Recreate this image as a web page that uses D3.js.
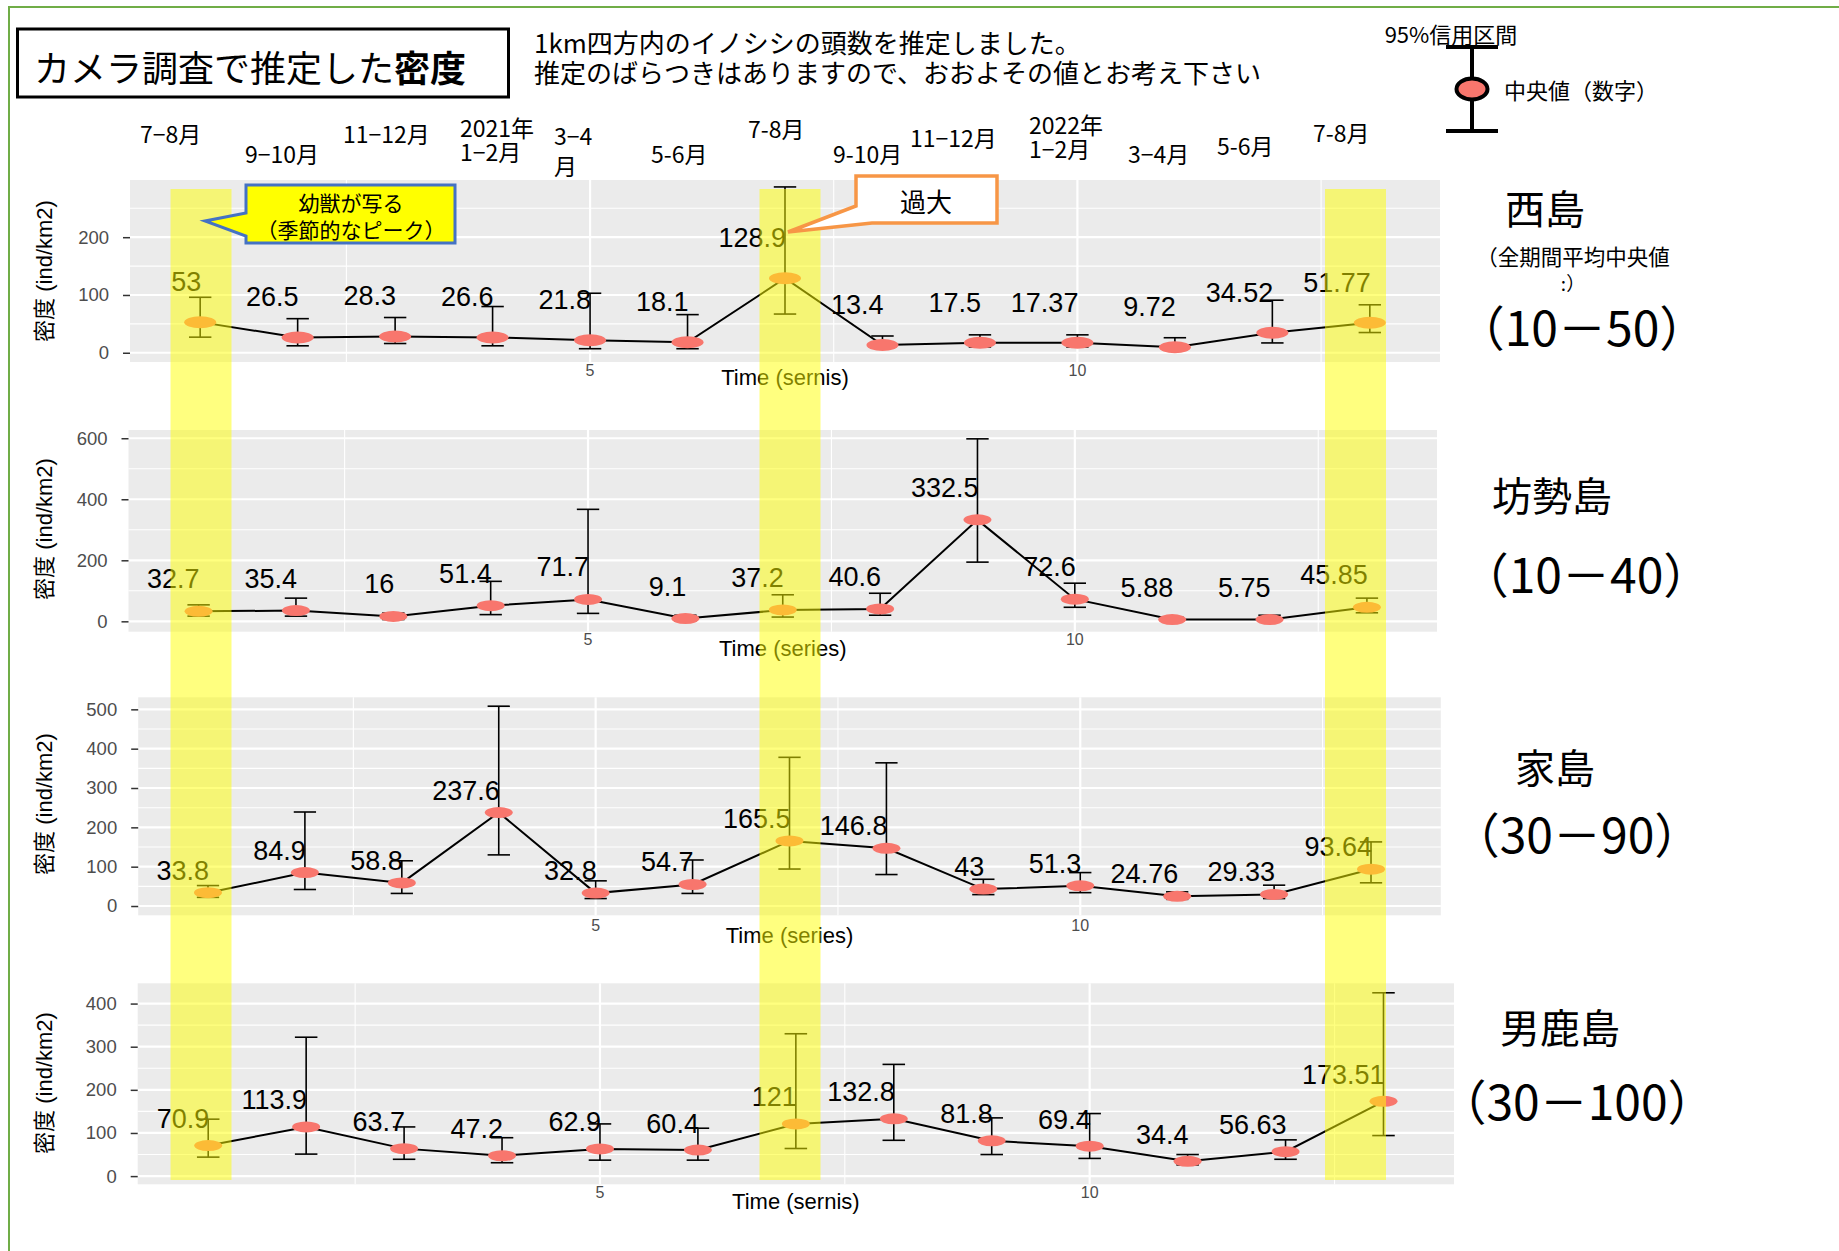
<!DOCTYPE html>
<html><head><meta charset="utf-8">
<script src="https://cdn.jsdelivr.net/npm/d3@7"></script>
<style>
body{margin:0;background:#fff;}
svg{display:block;}
</style></head>
<body>
<script>
// ---- data -------------------------------------------------------------
const periods = d3.range(1, 14);
const periodLabels = ["7−8月","9−10月","11−12月","2021年|1−2月","3−4|月","5-6月","7-8月","9-10月","11−12月","2022年|1−2月","3−4月","5-6月","7-8月"];

const islandNames = ["西島","坊勢島","家島","男鹿島"];
const islandRanges = ["（10－50）","（10－40）","（30－90）","（30－100）"];
const xAxisTitles = ["Time (sernis)","Time (series)","Time (series)","Time (sernis)"];

const nishiMedian = [53,26.5,28.3,26.6,21.8,18.1,128.9,13.4,17.5,17.37,9.72,34.52,51.77];
const nishiLower  = [27,12,16,12,7,7,67,8,10,10,5,17,35];
const nishiUpper  = [96,59,61,80,103,66,287,29,31,31,26,91,83];

const boseMedian = [32.7,35.4,16,51.4,71.7,9.1,37.2,40.6,332.5,72.6,5.88,5.75,45.85];
const boseLower  = [17,17,6,22,26,2,14,20,194,46,1,1,28];
const boseUpper  = [54,76,27,131,367,20,87,92,598,125,14,20,76];

const ieMedian = [33.8,84.9,58.8,237.6,32.8,54.7,165.5,146.8,43,51.3,24.76,29.33,93.64];
const ieLower  = [22,42,32,130,19,32,94,80,29,34,17,19,59];
const ieUpper  = [52,239,115,508,64,117,378,364,68,85,36,53,163];

const tangaMedian = [70.9,113.9,63.7,47.2,62.9,60.4,121,132.8,81.8,69.4,34.4,56.63,173.51];
const tangaLower  = [44,51,39,31,37,37,64,83,50,41,26,39,94];
const tangaUpper  = [132,322,114,89,121,111,330,259,135,145,50,84,425];

const yTicks = [[0,100,200],[0,200,400,600],[0,100,200,300,400,500],[0,100,200,300,400]];
const xMajorTicks = [5,10];
const xMinorTicks = [2.5,7.5,12.5];
const highlightPeriods = [1,7,13];

const series = [
  {median: nishiMedian, lower: nishiLower, upper: nishiUpper},
  {median: boseMedian,  lower: boseLower,  upper: boseUpper},
  {median: ieMedian,    lower: ieLower,    upper: ieUpper},
  {median: tangaMedian, lower: tangaLower, upper: tangaUpper}
];

// ---- layout -----------------------------------------------------------
const W = 1839, H = 1251;
const JP = "'Noto Sans CJK JP', sans-serif";
const LAT = "'Liberation Sans', Arial, 'Noto Sans CJK JP', sans-serif";
const RED = "#F8766D";

const panelLayout = [
  {x0:130,   x1:1440,   y0:180,   y1:362,    yDom:[-16,299],    labelDy:-31, rx:16, ry:6,
   xTitleY:377, yTitleY:271, tickY:370, name:[1545,207], range:[1582,325]},
  {x0:128.5, x1:1437,   y0:430,   y1:631.7,  yDom:[-34,627],    labelDy:-23, rx:14, ry:5.5,
   xTitleY:648, yTitleY:529, tickY:639, name:[1552,494], range:[1586,572]},
  {x0:138.2, x1:1440.8, y0:697.3, y1:915.3,  yDom:[-23.6,530.6],labelDy:-13, rx:14, ry:5.5,
   xTitleY:935, yTitleY:804, tickY:925, name:[1555,766], range:[1577,832]},
  {x0:137.7, x1:1454,   y0:983.3, y1:1184.3, yDom:[-19,447],    labelDy:-17.5, rx:14, ry:5.5,
   xTitleY:1201, yTitleY:1083, tickY:1192, name:[1560,1026], range:[1577,1099]}
];
const xDomain = [0.28, 13.72];

const headerLayout = [
  [140,133],[245,153],[343,133],[460,127],[554,135],[651,153],[748,128],
  [833,153],[910,137],[1029,124],[1128,153],[1217,145],[1313,132]
];

const svg = d3.select("body").append("svg").attr("width", W).attr("height", H);

// outer frame lines
svg.append("path").attr("d", `M9,${H} V7 H${W}`).attr("fill","none")
  .attr("stroke","#70AD47").attr("stroke-width",2);

// title box
svg.append("rect").attr("x",17.5).attr("y",29).attr("width",491).attr("height",68)
  .attr("fill","#fff").attr("stroke","#000").attr("stroke-width",3);
const title = svg.append("text").attr("x",34).attr("y",66).attr("dominant-baseline","central")
  .attr("font-family",JP).attr("font-size",36).attr("fill","#000");
title.append("tspan").text("カメラ調査で推定した");
title.append("tspan").attr("font-weight","bold").text("密度");

// explanatory text
svg.append("text").attr("x",534).attr("y",41).attr("dominant-baseline","central")
  .attr("font-family",JP).attr("font-size",26).text("1km四方内のイノシシの頭数を推定しました。");
svg.append("text").attr("x",534).attr("y",71).attr("dominant-baseline","central")
  .attr("font-family",JP).attr("font-size",26).text("推定のばらつきはありますので、おおよその値とお考え下さい");

// legend
const lg = svg.append("g");
lg.append("text").attr("x",1451).attr("y",33).attr("text-anchor","middle").attr("dominant-baseline","central")
  .attr("font-family",JP).attr("font-size",22).text("95%信用区間");
lg.append("line").attr("x1",1472).attr("x2",1472).attr("y1",47).attr("y2",131).attr("stroke","#000").attr("stroke-width",4);
lg.selectAll("line.cap").data([47,131]).join("line").attr("class","cap")
  .attr("x1",1446).attr("x2",1498).attr("y1",d=>d).attr("y2",d=>d).attr("stroke","#000").attr("stroke-width",4);
lg.append("ellipse").attr("cx",1472).attr("cy",89).attr("rx",15.5).attr("ry",10.5)
  .attr("fill",RED).attr("stroke","#000").attr("stroke-width",4);
lg.append("text").attr("x",1504).attr("y",89).attr("dominant-baseline","central")
  .attr("font-family",JP).attr("font-size",22).text("中央値（数字）");

// period labels along the top
periodLabels.forEach((lab, i) => {
  const [x, y] = headerLayout[i];
  const lines = lab.split("|");
  const t = svg.append("text").attr("font-family",JP).attr("font-size",23).attr("fill","#000");
  lines.forEach((ln, j) => {
    t.append("tspan").attr("x",x).attr("y", y + j*(lab.startsWith("3") ? 30 : 24))
      .attr("dominant-baseline","central").text(ln);
  });
});

// ---- panels -----------------------------------------------------------
panelLayout.forEach((P, k) => {
  const d = series[k];
  const x = d3.scaleLinear().domain(xDomain).range([P.x0, P.x1]);
  const y = d3.scaleLinear().domain(P.yDom).range([P.y1, P.y0]);
  const g = svg.append("g");

  g.append("rect").attr("x",P.x0).attr("y",P.y0).attr("width",P.x1-P.x0).attr("height",P.y1-P.y0)
    .attr("fill","#EBEBEB");

  const step = yTicks[k][1] - yTicks[k][0];
  const yMinor = d3.range(step/2, P.yDom[1], step);
  g.selectAll("line.ymin").data(yMinor).join("line")
    .attr("x1",P.x0).attr("x2",P.x1).attr("y1",v=>y(v)).attr("y2",v=>y(v))
    .attr("stroke","#fff").attr("stroke-width",1.1);
  g.selectAll("line.xmin").data(xMinorTicks).join("line")
    .attr("y1",P.y0).attr("y2",P.y1).attr("x1",v=>x(v)).attr("x2",v=>x(v))
    .attr("stroke","#fff").attr("stroke-width",1.1);
  g.selectAll("line.ymaj").data(yTicks[k]).join("line")
    .attr("x1",P.x0).attr("x2",P.x1).attr("y1",v=>y(v)).attr("y2",v=>y(v))
    .attr("stroke","#fff").attr("stroke-width",2.2);
  g.selectAll("line.xmaj").data(xMajorTicks).join("line")
    .attr("y1",P.y0).attr("y2",P.y1).attr("x1",v=>x(v)).attr("x2",v=>x(v))
    .attr("stroke","#fff").attr("stroke-width",2.2);

  // y axis
  const ya = g.append("g").attr("transform",`translate(${P.x0},0)`)
    .call(d3.axisLeft(y).tickValues(yTicks[k]).tickSize(7).tickPadding(14));
  ya.select(".domain").remove();
  ya.selectAll(".tick line").attr("stroke","#333").attr("stroke-width",1.5);
  ya.selectAll(".tick text").attr("font-family",LAT).attr("font-size",18.5).attr("fill","#4D4D4D");

  // x tick labels
  g.selectAll("text.xt").data(xMajorTicks).join("text")
    .attr("x",v=>x(v)).attr("y",P.tickY).attr("text-anchor","middle").attr("dominant-baseline","central")
    .attr("font-family",LAT).attr("font-size",16).attr("fill","#4D4D4D").text(v=>v);

  // axis titles
  g.append("text").attr("x",(P.x0+P.x1)/2).attr("y",P.xTitleY).attr("text-anchor","middle")
    .attr("dominant-baseline","central").attr("font-family",LAT).attr("font-size",22).text(xAxisTitles[k]);
  g.append("text").attr("transform",`translate(44,${P.yTitleY}) rotate(-90)`).attr("text-anchor","middle")
    .attr("dominant-baseline","central").attr("font-family",LAT).attr("font-size",22).text("密度 (ind/km2)");

  // line
  g.append("path").datum(periods)
    .attr("d", d3.line().x(i=>x(i)).y(i=>y(d.median[i-1])))
    .attr("fill","none").attr("stroke","#000").attr("stroke-width",2);

  // error bars
  const capHalf = 0.115;
  const eb = g.selectAll("g.eb").data(periods).join("g");
  eb.append("line").attr("x1",i=>x(i)).attr("x2",i=>x(i))
    .attr("y1",i=>y(d.lower[i-1])).attr("y2",i=>y(d.upper[i-1]))
    .attr("stroke","#000").attr("stroke-width",1.6);
  eb.append("line").attr("x1",i=>x(i-capHalf)).attr("x2",i=>x(i+capHalf))
    .attr("y1",i=>y(d.upper[i-1])).attr("y2",i=>y(d.upper[i-1]))
    .attr("stroke","#000").attr("stroke-width",1.6);
  eb.append("line").attr("x1",i=>x(i-capHalf)).attr("x2",i=>x(i+capHalf))
    .attr("y1",i=>y(d.lower[i-1])).attr("y2",i=>y(d.lower[i-1]))
    .attr("stroke","#000").attr("stroke-width",1.6);

  // points
  g.selectAll("ellipse").data(periods).join("ellipse")
    .attr("cx",i=>x(i)).attr("cy",i=>y(d.median[i-1])).attr("rx",P.rx).attr("ry",P.ry).attr("fill",RED);

  // value labels
  g.selectAll("text.val").data(periods).join("text")
    .attr("x",i=>x(i)+1).attr("y",i=>y(d.median[i-1]) + P.labelDy).attr("text-anchor","end")
    .attr("font-family",LAT).attr("font-size",27).attr("fill","#000")
    .text(i=>String(d.median[i-1]));

  // island name and range
  svg.append("text").attr("x",P.name[0]).attr("y",P.name[1]).attr("text-anchor","middle").attr("dominant-baseline","central")
    .attr("font-family",JP).attr("font-size",40).text(islandNames[k]);
  svg.append("text").attr("x",P.range[0]).attr("y",P.range[1]).attr("text-anchor","middle").attr("dominant-baseline","central")
    .attr("font-family",JP).attr("font-size",48).text(islandRanges[k]);
});

svg.append("text").attr("x",1573).attr("y",255).attr("text-anchor","middle").attr("dominant-baseline","central")
  .attr("font-family",JP).attr("font-size",21.5).text("（全期間平均中央値");
svg.append("text").attr("x",1573).attr("y",282).attr("text-anchor","middle").attr("dominant-baseline","central")
  .attr("font-family",JP).attr("font-size",19).text(":）");

// ---- highlighted periods (translucent bands over all panels) -----------
const bandX = d3.scaleLinear().domain([1,7,13]).range([201,790,1355.5]);
svg.selectAll("rect.band").data(highlightPeriods).join("rect").attr("class","band")
  .attr("x",p=>bandX(p)-30.5).attr("width",61).attr("y",189).attr("height",991)
  .attr("fill","#FFFF00").attr("opacity",0.5);

// ---- callouts ---------------------------------------------------------
svg.append("path").attr("d","M246,185 H455 V243 H246 V236 L205,221 L246,213 Z")
  .attr("fill","#FFFF00").attr("stroke","#4472C4").attr("stroke-width",3).attr("stroke-linejoin","miter");
svg.append("text").attr("x",351).attr("y",202).attr("text-anchor","middle").attr("dominant-baseline","central")
  .attr("font-family",JP).attr("font-size",21).text("幼獣が写る");
svg.append("text").attr("x",351).attr("y",229).attr("text-anchor","middle").attr("dominant-baseline","central")
  .attr("font-family",JP).attr("font-size",21).text("（季節的なピーク）");

svg.append("path").attr("d","M856,176 H997 V223 H872 L788,232 L856,206 Z")
  .attr("fill","#fff").attr("stroke","#F79646").attr("stroke-width",3.5);
svg.append("text").attr("x",926).attr("y",200).attr("text-anchor","middle").attr("dominant-baseline","central")
  .attr("font-family",JP).attr("font-size",26).text("過大");
</script>
</body></html>
